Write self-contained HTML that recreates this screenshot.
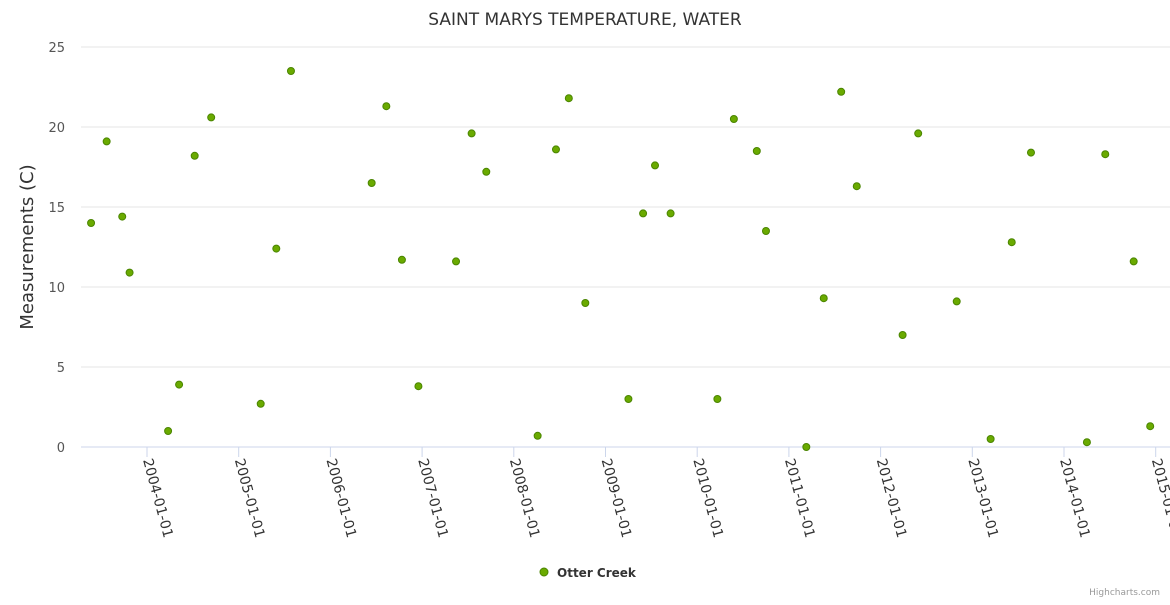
<!DOCTYPE html>
<html><head><meta charset="utf-8"><style>
body{margin:0;background:#fff;font-family:"Liberation Sans","DejaVu Sans",sans-serif}
svg text{font-family:"DejaVu Sans","Liberation Sans",sans-serif}
</style></head><body>
<svg id="chart" width="1170" height="600" xmlns="http://www.w3.org/2000/svg">
<rect width="1170" height="600" fill="#fff"/>
<text x="585" y="25" text-anchor="middle" font-size="17" fill="#333">SAINT MARYS TEMPERATURE, WATER</text>
<text transform="translate(33,247) rotate(-90)" text-anchor="middle" font-size="18" fill="#333">Measurements (C)</text>
<g id="grid"></g><g id="xaxis"></g><g id="points"></g>
<g>
<circle cx="544" cy="572" r="4" fill="#6aaa00" stroke="#4a8500" stroke-width="1"/>
<text x="557" y="577" font-size="12" font-weight="bold" fill="#333">Otter Creek</text>
</g>
<text x="1160" y="595" text-anchor="end" font-size="9" fill="#999">Highcharts.com</text>
</svg>
<script>
const yTicks=[0,5,10,15,20,25];
const xTickYears=[2004,2005,2006,2007,2008,2009,2010,2011,2012,2013,2014,2015];
const xTickLabels=["2004-01-01","2005-01-01","2006-01-01","2007-01-01","2008-01-01","2009-01-01","2010-01-01","2011-01-01","2012-01-01","2013-01-01","2014-01-01","2015-01-01"];
const dates=[2003.39,2003.56,2003.73,2003.81,2004.23,2004.35,2004.52,2004.70,2005.24,2005.41,2005.57,2006.45,2006.61,2006.78,2006.96,2007.37,2007.54,2007.70,2008.26,2008.46,2008.60,2008.78,2009.25,2009.41,2009.54,2009.71,2010.22,2010.40,2010.65,2010.75,2011.19,2011.38,2011.57,2011.74,2012.24,2012.41,2012.83,2013.20,2013.43,2013.64,2014.25,2014.45,2014.76,2014.94];
const values=[14.0,19.1,14.4,10.9,1.0,3.9,18.2,20.6,2.7,12.4,23.5,16.5,21.3,11.7,3.8,11.6,19.6,17.2,0.7,18.6,21.8,9.0,3.0,14.6,17.6,14.6,3.0,20.5,18.5,13.5,0.0,9.3,22.2,16.3,7.0,19.6,9.1,0.5,12.8,18.4,0.3,18.3,11.6,1.3];
const NS="http://www.w3.org/2000/svg";
const X=y=>147+(y-2004)*91.7;
const Y=v=>447-v*16;
function mk(t,a,p){const e=document.createElementNS(NS,t);for(const k in a)e.setAttribute(k,a[k]);p.appendChild(e);return e;}
const grid=document.getElementById('grid');
yTicks.forEach(v=>{
 const l=mk('line',{x1:81,x2:1170,y1:Y(v),y2:Y(v),stroke:v===0?'#ccd6eb':'#e6e6e6','stroke-width':1},grid);
 
 
 const t=mk('text',{x:65,y:Y(v)+5,'text-anchor':'end','font-size':13,fill:'#555'},grid);
 t.textContent=v;
 
 
});
const xa=document.getElementById('xaxis');
xTickYears.forEach((yr,i)=>{
 const x=X(yr);
 const l=mk('line',{x1:x,x2:x,y1:447,y2:457,stroke:'#ccd6eb'},xa);
 
 
 const t=mk('text',{transform:`translate(${x-4},460) rotate(75)`,'font-size':14,fill:'#333'},xa);
 t.textContent=xTickLabels[i];
 
 
});
const pg=document.getElementById('points');
dates.forEach((d,i)=>{
 const c=mk('circle',{cx:X(d),cy:Y(values[i]),r:3.5,fill:'#6aaa00',stroke:'#4a8500','stroke-width':1},pg);
 
 
});
</script>
</body></html>
